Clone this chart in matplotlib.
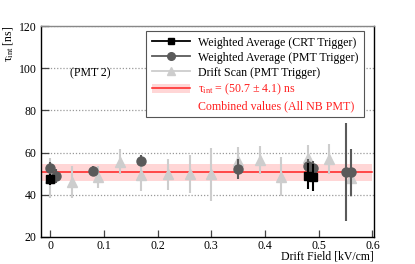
import numpy as np
import matplotlib.pyplot as plt
from matplotlib.lines import Line2D
from matplotlib.patches import Patch

plt.rc('font', family=['Liberation Serif', 'DejaVu Serif'], size=8.5)
plt.rc('mathtext', fontset='custom', rm='Liberation Serif', it='Liberation Serif')

# Weighted average (CRT trigger)
crt_x = [0.0, 0.48, 0.49]
crt_y = [47.3, 48.9, 48.3]
crt_e = [2.7, 6.3, 6.5]

# Weighted average (PMT trigger)
pmt_x = [0.0, 0.01, 0.08, 0.17, 0.35, 0.48, 0.49, 0.55, 0.56]
pmt_y = [52.6, 48.9, 51.3, 56.2, 52.2, 53.8, 52.8, 50.7, 50.7]
pmt_e = [3.0, 3.5, 2.5, 2.5, 4.9, 3.0, 3.2, 23.3, 11.2]

# Drift scan (PMT trigger)
ds_x = [0.0, 0.04, 0.09, 0.13, 0.17, 0.22, 0.26, 0.30, 0.35, 0.39, 0.43, 0.48, 0.52, 0.56]
ds_y = [48.0, 46.1, 48.6, 55.7, 49.4, 49.7, 49.7, 49.7, 56.2, 56.5, 48.6, 57.4, 57.0, 47.8]
ds_e = [9.5, 7.7, 5.2, 6.0, 7.5, 7.5, 9.0, 12.5, 6.6, 6.7, 9.2, 6.3, 7.0, 9.0]

tau = 50.7
tau_err = 4.1

c_crt = '#000000'
c_pmt = '#5a5a5a'
c_ds = '#cdcdcd'
c_red = '#ff2020'
c_band = '#ffd6d6'

fig = plt.figure(figsize=(4.15, 2.64), dpi=100)
ax = fig.add_axes([0.0988, 0.1023, 0.8012, 0.7992])
ax.set_xlim(-0.017, 0.602)
ax.set_ylim(20, 120)

for y in [40, 60, 80, 100, 120]:
    ax.axhline(y, color='#999999', linestyle=(0, (1, 1.5)), linewidth=0.9, zorder=0)

ax.fill_between([-0.015, 0.6], tau - tau_err, tau + tau_err, color=c_band, lw=0, zorder=1)
ax.plot([-0.015, 0.6], [tau, tau], color=c_red, lw=1.1, zorder=2)

ax.errorbar(ds_x, ds_y, yerr=ds_e, fmt='^', color=c_ds, ms=6.5, elinewidth=1.5, capsize=0, zorder=3)
ax.errorbar(pmt_x, pmt_y, yerr=pmt_e, fmt='o', color=c_pmt, ms=6.5, elinewidth=1.5, capsize=0, zorder=4)
ax.errorbar(crt_x, crt_y, yerr=crt_e, fmt='s', color=c_crt, ms=5.5, elinewidth=1.5, capsize=0, zorder=5)

ax.set_xticks(np.arange(0, 0.61, 0.1))
ax.set_xticklabels(['0', '0.1', '0.2', '0.3', '0.4', '0.5', '0.6'])
ax.set_yticks([20, 40, 60, 80, 100, 120])
ax.tick_params(direction='in', length=6, width=0.9, colors='#444444', labelcolor='black', pad=3)
ax.tick_params(axis='x', length=5, pad=2)
for s in ax.spines.values():
    s.set_linewidth(1.0)
ax.spines['top'].set_color('#888888')

ax.set_xlabel('Drift Field [kV/cm]', loc='right', labelpad=-1)
ax.set_ylabel(r'$\tau_{\mathrm{int}}$ [ns]', loc='top', labelpad=2)

ax.text(0.037, 97.8, '(PMT 2)', ha='left', va='center')

h_crt = Line2D([], [], color=c_crt, marker='s', ms=5, lw=1.3)
h_pmt = Line2D([], [], color=c_pmt, marker='o', ms=5.5, lw=1.3)
h_ds = Line2D([], [], color=c_ds, marker='^', ms=5.5, lw=1.3)
h_tau = (Patch(color=c_band, lw=0), Line2D([], [], color=c_red, lw=1.1))
h_none = Line2D([], [], color='none')
leg = ax.legend([h_crt, h_pmt, h_ds, h_tau, h_none],
                ['Weighted Average (CRT Trigger)', 'Weighted Average (PMT Trigger)',
                 'Drift Scan (PMT Trigger)', r'$\tau_{\mathrm{int}}$ = (50.7 $\pm$ 4.1) ns',
                 'Combined values (All NB PMT)'],
                loc='upper right', bbox_to_anchor=(0.970, 0.975), borderaxespad=0,
                fancybox=False, framealpha=1, edgecolor='#555555',
                handlelength=3.2, handleheight=0.8, handletextpad=0.65,
                labelspacing=0.25, borderpad=0.45, fontsize=8.6)
leg.get_frame().set_linewidth(0.8)
for t in leg.get_texts()[3:]:
    t.set_color(c_red)

fig.savefig('out.png', dpi=100)
